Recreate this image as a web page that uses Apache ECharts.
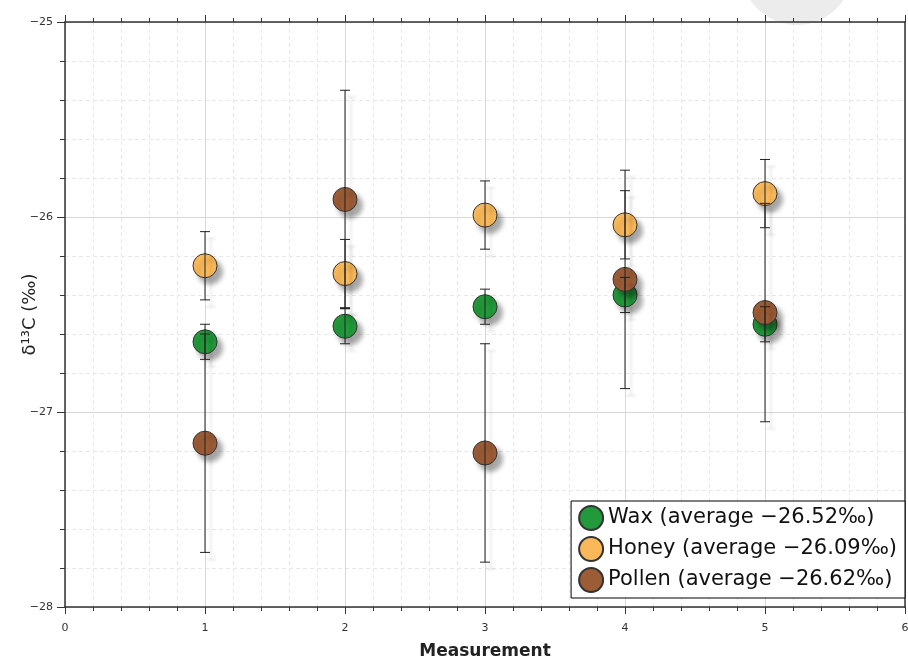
<!DOCTYPE html>
<html lang="en">
<head>
<meta charset="UTF-8">
<title>d13C measurements</title>
<script src="https://cdn.jsdelivr.net/npm/echarts@6/dist/echarts.min.js"></script>
<style>
  html, body { margin: 0; padding: 0; background: #fff; }
  #container { width: 908px; height: 661px; }
</style>
</head>
<body>
<div id="container"></div>
<script>
// measurement number on the x axis
var measurements = [1, 2, 3, 4, 5];

// d13C values (permil)
var waxValues = [-26.64, -26.56, -26.46, -26.40, -26.55];
var honeyValues = [-26.25, -26.29, -25.99, -26.04, -25.88];
var pollenValues = [-27.16, -25.91, -27.21, -26.32, -26.49];

// half length of the error bars
var waxErrors = [0.09, 0.09, 0.09, 0.09, 0.09];
var honeyErrors = [0.175, 0.175, 0.175, 0.175, 0.175];
var pollenErrors = [0.56, 0.56, 0.56, 0.56, 0.56];

var xTicks = [0, 1, 2, 3, 4, 5, 6];
var yTicks = [-28, -27, -26, -25];

var groups = [
    { name: 'Wax', values: waxValues, errors: waxErrors, color: '#22993a' },
    { name: 'Honey', values: honeyValues, errors: honeyErrors, color: '#f9b95a' },
    { name: 'Pollen', values: pollenValues, errors: pollenErrors, color: '#9b5c36' }
];

function minus(v) {
    return String(v).replace('-', '\u2212');
}

function average(arr) {
    var s = 0;
    for (var i = 0; i < arr.length; i++) s += arr[i];
    return s / arr.length;
}

var dom = document.getElementById('container');
var myChart = echarts.init(dom);

var series = [];
var legendNames = [];

groups.forEach(function (g) {
    var label = g.name + ' (average ' + minus(average(g.values).toFixed(2)) + '\u2030)';
    legendNames.push(label);
    series.push({
        name: label,
        type: 'scatter',
        z: 3,
        symbol: 'circle',
        symbolSize: 24,
        itemStyle: {
            color: g.color,
            borderColor: '#333',
            borderWidth: 1,
            opacity: 1,
            shadowBlur: 5,
            shadowOffsetX: 5,
            shadowOffsetY: 6,
            shadowColor: 'rgba(0,0,0,0.35)'
        },
        data: measurements.map(function (m, i) { return [m, g.values[i]]; })
    });
});

// error bars are drawn above all the circles
groups.forEach(function (g) {
    series.push({
        name: g.name + ' error',
        type: 'custom',
        z: 5,
        silent: true,
        renderItem: function (params, api) {
            var x = api.value(0);
            var top = api.coord([x, api.value(2)]);
            var bot = api.coord([x, api.value(1)]);
            var w = 5;
            var st = {
                stroke: '#222',
                lineWidth: 1,
                shadowBlur: 3,
                shadowOffsetX: 6,
                shadowOffsetY: 7,
                shadowColor: 'rgba(0,0,0,0.16)'
            };
            return {
                type: 'group',
                children: [
                    { type: 'line', shape: { x1: top[0], y1: top[1], x2: bot[0], y2: bot[1] }, style: st },
                    { type: 'line', shape: { x1: top[0] - w, y1: top[1], x2: top[0] + w, y2: top[1] }, style: st },
                    { type: 'line', shape: { x1: bot[0] - w, y1: bot[1], x2: bot[0] + w, y2: bot[1] }, style: st }
                ]
            };
        },
        encode: { x: 0, y: [1, 2] },
        data: measurements.map(function (m, i) {
            return [m, g.values[i] - g.errors[i], g.values[i] + g.errors[i]];
        })
    });
});

var axisLineStyle = { color: '#333', width: 1.5 };

option = {
    animation: false,
    backgroundColor: '#fff',
    textStyle: { fontFamily: 'DejaVu Sans' },
    grid: { left: 65, right: 3, top: 22, bottom: 54, containLabel: false, outerBoundsMode: 'none' },
    graphic: [{
        type: 'circle',
        z: -10,
        shape: { cx: 797, cy: -31, r: 56 },
        style: { fill: '#ececec' }
    }],
    legend: {
        data: legendNames,
        orient: 'vertical',
        right: 3,
        bottom: 63,
        itemWidth: 24,
        itemHeight: 24,
        itemGap: 5,
        padding: [4, 8, 5, 7],
        backgroundColor: '#fff',
        borderColor: '#000',
        borderWidth: 1,
        itemStyle: { shadowBlur: 0, shadowOffsetX: 0, shadowOffsetY: 0 },
        textStyle: { fontSize: 21, lineHeight: 24, color: '#111', fontFamily: 'DejaVu Sans', padding: [0, 0, 0, 0] }
    },
    xAxis: [{
        type: 'value',
        position: 'bottom',
        min: xTicks[0],
        max: xTicks[xTicks.length - 1],
        interval: 1,
        name: 'Measurement',
        nameLocation: 'middle',
        nameGap: 36,
        nameMoveOverlap: false,
        nameTextStyle: { fontSize: 17, fontWeight: 'bold', color: '#222' },
        axisLine: { show: true, onZero: false, lineStyle: axisLineStyle },
        axisTick: { show: true, inside: false, length: 7, lineStyle: { color: '#333' } },
        minorTick: { show: true, splitNumber: 5, length: 4, lineStyle: { color: '#333' } },
        axisLabel: { fontSize: 11, color: '#333', margin: 16 },
        splitLine: { show: true, lineStyle: { color: '#d8d8d8', width: 1 } },
        minorSplitLine: { show: true, lineStyle: { color: '#e8e8e8', type: [4, 3] } }
    }, {
        type: 'value',
        position: 'top',
        min: xTicks[0],
        max: xTicks[xTicks.length - 1],
        interval: 1,
        axisLine: { show: true, onZero: false, lineStyle: axisLineStyle },
        axisTick: { show: true, inside: false, length: 7, lineStyle: { color: '#333' } },
        minorTick: { show: true, splitNumber: 5, length: 4, lineStyle: { color: '#333' } },
        axisLabel: { show: false },
        splitLine: { show: false }
    }],
    yAxis: [{
        type: 'value',
        min: yTicks[0],
        max: yTicks[yTicks.length - 1],
        interval: 1,
        name: '\u03b4\u00b9\u00b3C (\u2030)',
        nameLocation: 'middle',
        nameGap: 26,
        nameMoveOverlap: false,
        nameTextStyle: { fontSize: 18, color: '#222' },
        axisLine: { show: true, onZero: false, lineStyle: axisLineStyle },
        axisTick: { show: true, inside: false, length: 8, lineStyle: { color: '#333' } },
        minorTick: { show: true, splitNumber: 5, length: 5, lineStyle: { color: '#333' } },
        axisLabel: { fontSize: 11, color: '#333', margin: 12, formatter: function (v) { return minus(v); } },
        splitLine: { show: true, lineStyle: { color: '#d8d8d8', width: 1 } },
        minorSplitLine: { show: true, lineStyle: { color: '#e8e8e8', type: [4, 3] } }
    }, {
        type: 'value',
        position: 'right',
        min: yTicks[0],
        max: yTicks[yTicks.length - 1],
        interval: 1,
        axisLine: { show: true, onZero: false, lineStyle: axisLineStyle },
        axisTick: { show: false },
        axisLabel: { show: false },
        splitLine: { show: false }
    }],
    series: series
};

if (option && typeof option === 'object') {
    myChart.setOption(option, true);
}
</script>
</body>
</html>
